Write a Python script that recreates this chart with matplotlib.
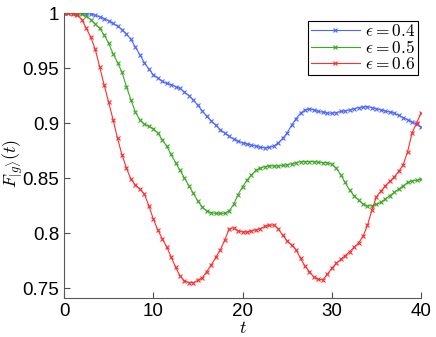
import numpy as np
import matplotlib
matplotlib.use("Agg")
import matplotlib.pyplot as plt

plt.rcParams['mathtext.fontset'] = 'cm'
plt.rcParams['font.family'] = ['Liberation Sans', 'DejaVu Sans']

# time grid, step 0.5
t = np.arange(0, 40.01, 0.5)

# epsilon = 0.4
f04 = [1.0, 1.0, 1.0, 1.0, 0.9998, 0.9995, 0.999, 0.998, 0.9966, 0.995,
       0.993, 0.9905, 0.988, 0.985, 0.981, 0.976, 0.969, 0.962, 0.955, 0.949,
       0.944, 0.941, 0.938, 0.936, 0.935, 0.933, 0.9315, 0.928, 0.925, 0.921,
       0.916, 0.911, 0.906, 0.902, 0.898, 0.894, 0.891, 0.888, 0.8855, 0.8835,
       0.882, 0.881, 0.880, 0.879, 0.878, 0.8775, 0.878, 0.879, 0.882, 0.886,
       0.891, 0.898, 0.904, 0.909, 0.912, 0.9127, 0.912, 0.9105, 0.910, 0.909,
       0.909, 0.9095, 0.9105, 0.911, 0.912, 0.913, 0.914, 0.9145, 0.915, 0.914,
       0.913, 0.912, 0.911, 0.910, 0.909, 0.907, 0.905, 0.903, 0.901, 0.899,
       0.896]

# epsilon = 0.5
f05 = [1.0, 1.0, 1.0, 0.9995, 0.999, 0.997, 0.994, 0.990, 0.986, 0.980,
       0.9725, 0.963, 0.955, 0.946, 0.933, 0.921, 0.910, 0.903, 0.899, 0.897,
       0.895, 0.891, 0.885, 0.879, 0.8715, 0.864, 0.857, 0.850, 0.843, 0.836,
       0.829, 0.8235, 0.820, 0.8185, 0.818, 0.818, 0.818, 0.820, 0.826, 0.835,
       0.842, 0.848, 0.853, 0.857, 0.859, 0.8605, 0.861, 0.861, 0.861, 0.8615,
       0.862, 0.863, 0.864, 0.865, 0.865, 0.865, 0.865, 0.8645, 0.864, 0.864,
       0.8625, 0.859, 0.853, 0.846, 0.839, 0.834, 0.830, 0.8265, 0.8245, 0.825,
       0.826, 0.828, 0.831, 0.834, 0.837, 0.840, 0.843, 0.846, 0.8475, 0.848,
       0.8488]

# epsilon = 0.6
f06 = [1.0, 1.0, 0.9995, 0.998, 0.994, 0.986, 0.978, 0.967, 0.951, 0.9345,
       0.919, 0.903, 0.886, 0.871, 0.859, 0.849, 0.8436, 0.840, 0.8355, 0.825,
       0.813, 0.803, 0.795, 0.7876, 0.7785, 0.769, 0.761, 0.7565, 0.755, 0.755,
       0.757, 0.7595, 0.765, 0.771, 0.778, 0.7845, 0.7936, 0.8034, 0.805, 0.802,
       0.801, 0.801, 0.802, 0.803, 0.804, 0.806, 0.807, 0.8075, 0.804, 0.798,
       0.793, 0.789, 0.785, 0.777, 0.770, 0.765, 0.760, 0.758, 0.7575, 0.7625,
       0.768, 0.7725, 0.776, 0.7795, 0.783, 0.787, 0.791, 0.797, 0.807, 0.821,
       0.833, 0.838, 0.843, 0.847, 0.851, 0.856, 0.862, 0.874, 0.891, 0.900,
       0.909]

labels = [r'$\epsilon=0.4$', r'$\epsilon=0.5$', r'$\epsilon=0.6$']
colors = ['#4a66ff', '#3aaa22', '#ff2d2d']

fig = plt.figure(figsize=(4.36, 3.37), dpi=100)
ax = fig.add_axes([0.1468, 0.1157, 0.8188, 0.8457])

for y, c, lab in zip([f04, f05, f06], colors, labels):
    ax.plot(t, y, color=c, marker='x', markersize=3.5, markeredgewidth=0.8,
            linewidth=0.8, label=lab)

ax.set_xlim(0, 40)
ax.set_ylim(0.741, 1.0)
ax.set_xticks([0, 10, 20, 30, 40])
ax.set_yticks([0.75, 0.8, 0.85, 0.9, 0.95, 1.0])
ax.set_yticklabels(['0.75', '0.8', '0.85', '0.9', '0.95', '1'])
ax.tick_params(direction='in', labelsize=13.5, length=4, color='0.3')
ax.spines['top'].set_visible(False)
ax.spines['right'].set_visible(False)
for s in ['left', 'bottom']:
    ax.spines[s].set_color('0.35')

ax.set_xlabel(r'$t$', fontsize=13, labelpad=0)
fig.text(13 / 436, 1 - 163 / 337, r'$F_{|g\rangle}(t)$', fontsize=13,
         rotation=90, ha='center', va='center')

leg = ax.legend(loc='upper right', fontsize=12.5, fancybox=False,
                framealpha=1, edgecolor='black', borderpad=0.15,
                labelspacing=0.0, handlelength=2.8, handletextpad=0.3,
                borderaxespad=0.2, bbox_to_anchor=(1.0, 0.985))
leg.get_frame().set_linewidth(0.8)

fig.savefig('out.png', dpi=100)
